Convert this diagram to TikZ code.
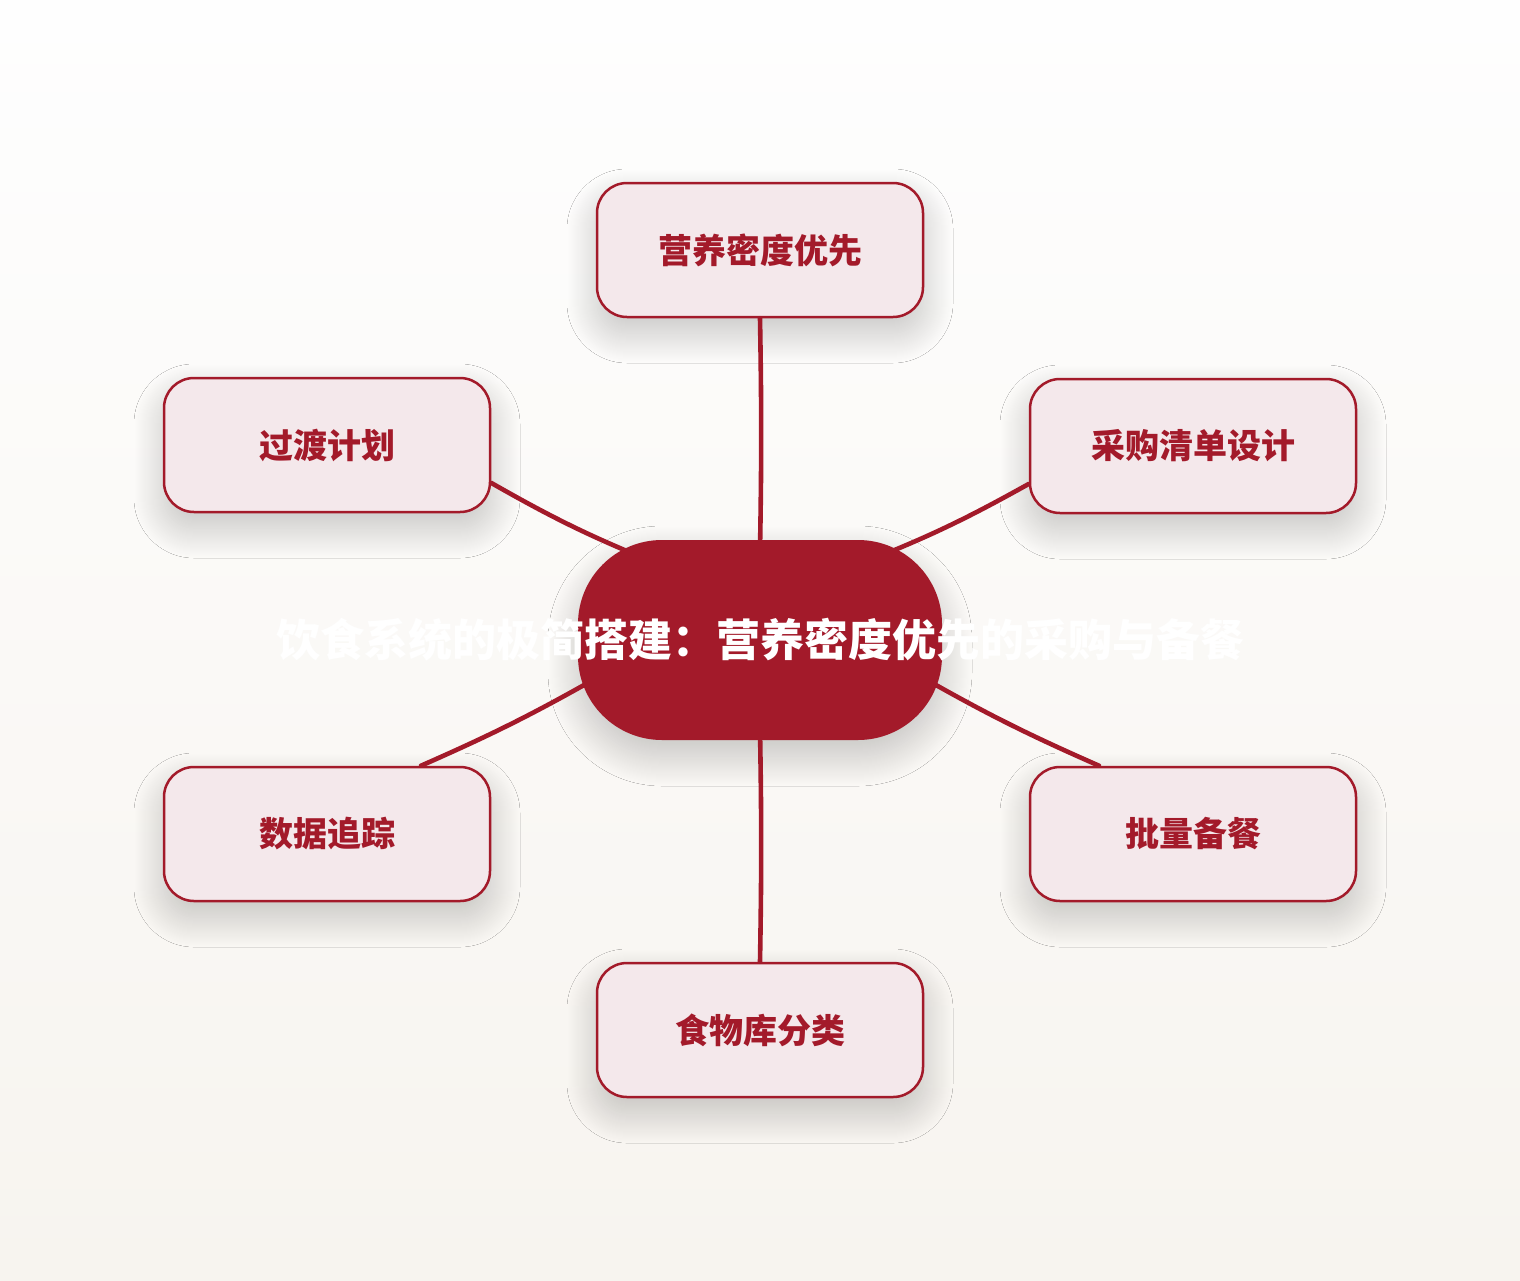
\documentclass[tikz,border=0pt]{standalone}
\usepackage{fontspec}
\setmainfont{Noto Sans CJK SC}
\usetikzlibrary{calc,shadows.blur}
\definecolor{deepred}{HTML}{A31A2A}
\definecolor{blush}{HTML}{F4E8EB}
\definecolor{bgtop}{HTML}{FEFEFE}
\definecolor{bgbottom}{HTML}{F7F4EF}
\tikzset{
	softshadow/.style={blur shadow={shadow xshift=0pt,shadow yshift=-8pt,shadow blur radius=15pt,shadow blur steps=60,shadow opacity=22}},
	leaf/.style={draw=deepred,line width=1.25pt,fill=blush,rounded corners=15pt,minimum width=163pt,minimum height=67pt,text=deepred,font=\bfseries\fontsize{17pt}{20pt}\selectfont,softshadow},
	hub/.style={fill=deepred,rounded corners=42pt,minimum width=182pt,minimum height=100pt,text=white,font=\bfseries\fontsize{22pt}{26pt}\selectfont,softshadow},
	link/.style={draw=deepred,line width=2.3pt,line cap=round}
}
\begin{document}
\begin{tikzpicture}[x=0.5pt,y=-0.5pt]
	%background
	\shade[top color=bgtop,bottom color=bgbottom] (0,0) rectangle (1520,1280);
	%hub
	\node[hub] (c) at (760,640) {\makebox[0pt]{饮食系统的极简搭建：营养密度优先的采购与备餐}};
	%leaves
	\foreach \nm/\x/\y/\txt in {t/760/250/营养密度优先,ul/327/445/过渡计划,ur/1193/446/采购清单设计,ll/327/834/数据追踪,lr/1193/834/批量备餐,b/760/1030/食物库分类}{
		\node[leaf] (\nm) at (\x,\y) {\txt};
	}
	%links
	\foreach \from/\dx/\dy/\bnd in {t.south/0/-90/1,ul.-13/-94/-73/-4,ur.193/92/-73/4,ll.36/-153/32/-3,lr.144/153/32/3,b.north/0/90/-1}{
		\draw[link] (\from) to[bend left=\bnd] ($(c.center)+(\dx,\dy)$);
	}
\end{tikzpicture}
\end{document}
